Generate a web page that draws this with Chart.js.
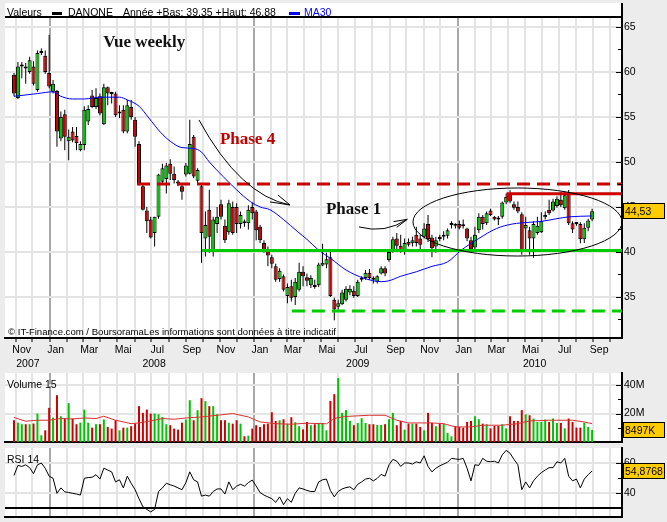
<!DOCTYPE html>
<html lang="fr">
<head>
<meta charset="utf-8">
<title>DANONE - vue weekly</title>
<script src="https://cdn.jsdelivr.net/npm/chart.js@4.4.1/dist/chart.umd.min.js"></script>
<style>
  html, body { margin: 0; padding: 0; background: #ececec; overflow: hidden; }
  #page { position: relative; width: 667px; height: 522px; }
  #page canvas { position: absolute; left: 0; }
</style>
</head>
<body>
<div id="page">
  <canvas id="prix" width="667" height="370" style="top:0"></canvas>
  <canvas id="volume" width="667" height="75" style="top:370px"></canvas>
  <canvas id="rsi" width="667" height="77" style="top:445px"></canvas>
</div>
<script>
// DANONE, bougies hebdo de fin oct. 2007 a fin aout 2010

const firstWeek = Date.UTC(2007, 9, 29);   // lundi de la premiere bougie
const DAY = 864e5;
const FONT = '"Liberation Sans", Arial, sans-serif';
const SERIF = '"Liberation Serif", "Times New Roman", serif';
const UP = '#00c400';
const DOWN = '#cc0000';

const monthNames = ['Jan', '', 'Mar', '', 'Mai', '', 'Jul', '', 'Sep', '', 'Nov', ''];
const yearLabels = ['2007', '2008', '2009', '2010'];
const yearCentres = ['2007-11-23', '2008-07-06', '2009-07-06', '2010-05-19'];
const priceTicks = [32.5, 35, 37.5, 40, 42.5, 45, 47.5, 50, 52.5, 55, 57.5, 60, 62.5, 65];
const volumeTicks = [10, 20, 30, 40];
const rsiTicks = [40, 50, 60];

const opens = [
  59.7, 57.1, 60.6, 60.6, 60.0, 60.6, 58.0, 62.1, 61.8, 59.9,
  57.8, 57.9, 52.6, 55.3, 52.3, 53.4, 52.9, 51.3, 51.9, 54.5,
  57.4, 56.1, 57.3, 54.2, 58.3, 57.6, 57.6, 55.4, 55.8, 53.4,
  56.1, 54.7, 52.0, 47.3, 44.6, 43.6, 42.1, 43.9, 47.8, 48.1,
  49.8, 48.7, 47.7, 47.3, 48.6, 48.7, 52.8, 47.9, 47.3, 41.5,
  44.7, 40.2, 43.1, 45.3, 42.9, 42.2, 45.0, 45.0, 43.1, 43.3,
  43.2, 45.0, 44.5, 42.8, 41.0, 40.2, 39.4, 38.4, 37.0, 37.3,
  35.1, 36.2, 35.0, 35.8, 37.8, 37.2, 36.3, 36.3, 36.3, 38.5,
  38.6, 39.4, 34.7, 33.9, 34.2, 34.7, 35.5, 35.7, 35.1, 36.9,
  37.1, 37.7, 36.95, 36.7, 37.6, 38.2, 39.1, 40.0, 41.5, 40.7,
  40.0, 41.1, 40.97, 41.9, 41.5, 41.7, 43.1, 41.6, 40.6, 41.5,
  41.7, 41.8, 43.0, 42.95, 43.1, 42.9, 42.6, 41.3, 40.5, 42.4,
  43.9, 43.2, 44.6, 43.9, 43.65, 43.9, 45.5, 46.5, 45.3, 45.0,
  44.2, 42.6, 42.4, 41.5, 42.1, 42.2, 43.85, 44.7, 44.6, 45.1,
  45.8, 44.85, 46.45, 43.2, 43.15, 43.1, 41.4, 42.7, 43.6
];
const highs = [
  59.9, 61.1, 61.1, 61.0, 61.7, 61.2, 62.4, 62.6, 62.4, 64.1,
  59.1, 58.0, 55.6, 55.8, 53.6, 53.9, 53.9, 52.3, 56.2, 56.3,
  58.0, 58.2, 57.6, 58.7, 58.4, 57.8, 57.8, 56.3, 56.3, 56.9,
  56.9, 55.0, 52.3, 47.6, 45.0, 43.9, 43.9, 48.7, 49.8, 49.9,
  50.3, 49.5, 48.0, 47.6, 49.9, 54.7, 53.0, 49.3, 47.6, 44.5,
  46.9, 43.9, 45.0, 45.8, 43.6, 45.8, 45.6, 45.4, 44.5, 43.6,
  45.2, 45.5, 44.7, 43.0, 41.3, 40.6, 39.7, 38.7, 38.2, 37.5,
  36.5, 36.9, 37.1, 38.8, 38.4, 37.6, 37.4, 36.9, 38.8, 40.9,
  39.9, 40.2, 34.9, 34.7, 35.8, 36.2, 36.3, 36.2, 36.9, 37.3,
  38.0, 38.1, 37.3, 37.4, 38.4, 38.4, 40.2, 41.7, 42.1, 41.9,
  41.5, 41.5, 41.7, 42.8, 41.9, 43.2, 44.1, 41.9, 41.7, 41.9,
  42.3, 42.6, 43.4, 43.2, 43.5, 43.6, 42.7, 41.7, 42.8, 44.3,
  44.1, 44.5, 44.8, 44.0, 44.0, 45.6, 46.5, 46.85, 45.6, 45.6,
  44.4, 43.9, 42.8, 43.4, 43.9, 44.4, 44.5, 45.8, 45.9, 46.2,
  46.7, 46.7, 46.88, 43.4, 43.3, 43.3, 43.2, 43.7, 44.8
];
const lows = [
  57.3, 57.0, 59.3, 58.7, 59.8, 58.5, 57.8, 61.9, 59.8, 58.2,
  57.6, 51.7, 52.3, 51.3, 50.2, 52.2, 51.3, 51.2, 51.3, 54.1,
  56.0, 55.9, 55.2, 54.1, 56.3, 56.5, 55.0, 54.9, 53.2, 53.2,
  54.7, 51.7, 47.4, 44.6, 42.1, 41.5, 40.6, 43.7, 47.5, 46.5,
  48.0, 47.6, 47.3, 45.8, 48.4, 48.6, 48.2, 47.6, 38.8, 39.5,
  39.9, 39.5, 42.1, 43.6, 41.0, 41.9, 41.9, 42.1, 42.6, 42.8,
  42.5, 43.6, 41.3, 41.0, 39.9, 38.4, 38.2, 36.7, 36.7, 35.6,
  34.3, 34.5, 34.1, 35.6, 36.2, 36.2, 36.0, 35.9, 36.1, 38.4,
  38.2, 35.0, 32.4, 33.6, 34.1, 34.5, 35.2, 34.9, 35.0, 36.7,
  36.9, 36.9, 36.5, 36.5, 37.5, 37.3, 38.9, 39.9, 40.0, 39.9,
  39.7, 40.6, 40.6, 40.6, 40.2, 41.5, 41.1, 39.4, 39.9, 41.2,
  41.3, 41.5, 42.6, 42.6, 42.5, 42.6, 41.2, 40.0, 40.2, 42.1,
  42.5, 43.0, 44.0, 43.5, 43.0, 43.7, 45.3, 45.4, 44.7, 44.3,
  39.7, 40.2, 39.7, 39.35, 41.9, 42.1, 43.6, 44.1, 44.5, 44.9,
  45.0, 44.7, 43.0, 42.1, 42.9, 40.96, 41.0, 42.3, 43.4
];
const closes = [
  57.6, 60.6, 60.65, 60.4, 61.3, 58.7, 62.1, 62.3, 60.0, 58.4,
  58.7, 53.4, 55.0, 52.8, 52.8, 52.4, 52.1, 52.0, 55.8, 55.9,
  56.1, 57.1, 55.4, 58.3, 57.6, 57.55, 55.2, 55.6, 53.4, 56.3,
  55.0, 52.8, 47.6, 44.7, 43.4, 41.6, 43.9, 48.6, 49.3, 49.6,
  48.7, 48.0, 47.6, 46.7, 49.6, 52.0, 48.4, 49.1, 42.1, 43.0,
  41.7, 43.6, 43.9, 43.9, 41.3, 45.4, 42.1, 43.1, 44.1, 43.2,
  44.7, 44.3, 42.4, 41.3, 40.2, 39.6, 38.7, 36.9, 37.9, 35.8,
  36.1, 34.9, 36.7, 37.8, 37.3, 36.8, 37.1, 36.1, 38.6, 38.8,
  39.2, 35.1, 33.6, 34.3, 35.5, 35.9, 35.9, 35.1, 36.7, 37.0,
  37.7, 37.1, 36.9, 37.3, 38.2, 37.6, 40.0, 41.4, 40.7, 40.2,
  41.0, 40.8, 41.3, 41.0, 40.8, 42.6, 41.4, 40.4, 41.3, 41.45,
  41.9, 42.4, 43.2, 42.9, 42.7, 42.85, 41.5, 40.3, 41.9, 43.9,
  43.1, 44.3, 44.1, 43.6, 43.6, 45.5, 46.1, 45.6, 44.9, 44.5,
  40.2, 43.0, 41.5, 43.1, 42.9, 43.4, 44.1, 44.3, 45.6, 45.9,
  45.2, 46.3, 43.2, 42.5, 43.1, 41.4, 42.7, 43.5, 44.53
];
// volumes en millions de titres
const volumes = [
  15.3, 13.6, 12.5, 12.5, 12.5, 13.0, 20.0, 4.7, 8.2, 24.0,
  17.2, 32.9, 18.1, 16.5, 27.3, 16.5, 12.5, 13.6, 22.8, 13.6,
  10.1, 12.5, 12.5, 15.8, 10.6, 9.4, 15.3, 8.2, 10.1, 10.1,
  11.1, 12.9, 25.2, 20.5, 22.8, 20.0, 20.0, 19.5, 17.6, 12.5,
  11.8, 9.4, 8.7, 13.6, 15.8, 29.4, 15.3, 22.4, 30.8, 28.7,
  25.2, 25.2, 19.5, 15.3, 15.3, 13.6, 12.9, 15.3, 12.9, 4.0,
  4.5, 9.4, 11.8, 10.6, 12.5, 12.9, 20.9, 14.8, 15.3, 16.0,
  12.9, 17.4, 13.9, 11.1, 8.9, 14.1, 11.8, 12.5, 13.4, 13.4,
  8.2, 28.9, 33.6, 45.0, 20.5, 22.4, 14.8, 11.8, 13.4, 16.7,
  13.4, 12.5, 12.5, 12.0, 12.0, 12.5, 16.0, 20.5, 11.8, 14.8,
  8.7, 12.9, 12.9, 12.9, 10.6, 8.2, 20.5, 13.4, 11.1, 12.9,
  12.9, 6.4, 4.0, 11.1, 10.6, 10.1, 14.1, 14.8, 18.1, 16.0,
  12.9, 12.5, 9.6, 11.3, 11.3, 12.5, 9.6, 18.1, 14.8, 14.8,
  22.4, 19.5, 18.8, 16.5, 14.1, 14.1, 15.8, 14.1, 16.5, 13.4,
  13.4, 9.6, 16.5, 14.1, 10.1, 10.1, 13.6, 10.6, 8.497
];
const rsi14 = [
  51.9, 58.6, 57.9, 59.0, 57.1, 53.1, 59.0, 60.2, 56.7, 51.4,
  50.0, 40.0, 43.6, 41.0, 40.5, 40.0, 39.5, 38.8, 50.0, 50.5,
  50.7, 52.4, 49.5, 56.7, 55.5, 54.3, 47.6, 49.0, 43.6, 51.4,
  46.7, 42.4, 36.4, 31.0, 29.3, 27.6, 29.3, 41.2, 43.6, 46.7,
  45.7, 44.8, 43.6, 42.4, 47.1, 54.3, 49.0, 47.6, 38.1, 38.8,
  38.1, 41.2, 42.9, 42.9, 39.5, 47.6, 42.4, 44.8, 46.0, 44.8,
  47.1, 48.8, 44.8, 40.5, 38.8, 37.6, 36.4, 34.0, 37.6, 32.4,
  36.4, 34.0, 40.0, 43.6, 42.9, 41.9, 41.2, 41.2, 47.6, 49.0,
  49.5, 41.9, 37.6, 41.2, 42.9, 43.8, 44.3, 42.4, 46.0, 47.6,
  49.5, 50.0, 48.3, 50.0, 52.6, 51.4, 59.0, 62.6, 61.4, 57.9,
  60.2, 60.2, 59.5, 61.0, 60.2, 65.0, 57.9, 54.3, 56.7, 58.3,
  59.5, 60.7, 63.3, 62.9, 62.6, 63.3, 56.7, 48.3, 59.0, 58.6,
  63.3, 61.4, 61.0, 61.4, 60.2, 65.7, 68.6, 66.7, 62.6, 59.0,
  42.4, 47.6, 43.6, 48.3, 51.4, 53.8, 55.5, 57.1, 57.1, 61.0,
  60.2, 63.3, 51.4, 48.3, 49.5, 43.6, 49.5, 52.4, 54.8768
];
// moyennes : [semaine, valeur]
const ma30 = [
  [0, 57.3], [6, 57.6], [10, 57.8], [12, 57.3], [15, 57.0], [18, 57.0], [22, 57.2],
  [27, 57.2], [29, 56.9], [32, 56.2], [34.5, 54.9], [37.5, 53.3], [40, 52.3], [43, 51.6],
  [46, 51.5], [48, 51.1], [50, 50.0], [53.5, 48.4], [57, 46.9], [60.5, 45.6], [63, 45.0],
  [65.5, 44.7], [69, 43.6], [72.5, 42.3], [75, 41.4], [78, 40.2], [81, 39.3], [85, 38.0],
  [89.5, 37.1], [94, 36.7], [96, 36.8], [99, 37.3], [103, 37.8], [107, 38.4], [111, 38.9],
  [114.5, 40.2], [119, 41.5], [123.5, 42.6], [127.5, 43.1], [132, 43.3], [135, 43.4],
  [139, 43.7], [142, 43.9], [148, 44.0]
];
const volMa15 = [
  [0, 17.2], [3, 14.6], [6, 15.3], [9, 15.3], [12, 16.5], [15, 16.2], [18, 16.9], [21, 16.5],
  [23, 18.1], [26, 15.3], [30, 12.9], [32, 13.4], [36, 15.3], [38, 16.5], [41, 16.0],
  [44, 16.9], [48, 17.6], [52, 18.8], [56, 20.0], [60, 17.6], [63, 14.1], [67, 12.9],
  [71, 12.5], [75, 13.2], [80, 12.8], [82, 16.5], [84, 17.6], [86, 18.1], [91, 18.8],
  [95, 18.8], [98, 15.3], [101, 13.4], [107, 13.4], [110, 12.9], [113, 10.6], [117, 10.6],
  [120, 11.8], [125, 11.8], [129, 12.9], [132, 14.8], [137, 15.3], [143, 15.3], [146, 14.1],
  [148, 12.9]
];
const yearLow = 39.35;
const yearHigh = 46.88;

// traces faits a la main sur le graphique (jours depuis la 1re bougie, cours)
const refLines = [
  { price: 47.55, from: 220.4, color: '#cc0000', dash: [13, 7] },
  { price: 40.15, from: 337, color: '#00cc00', dash: [] },
  { price: 33.45, from: 498, color: '#00cc00', dash: [13, 7] },
  { price: 46.48, from: 885.3, color: '#cc0000', dash: [], drop: 45.7 }
];
const ellipse = { day: 902.3, price: 43.33, rx: 187.3, ry: 3.78 };
const arrows = [
  { from: [331.5, 54.67], ctrl: [405, 46.3], to: [494.6, 45.22], barbs: [[473, 46.33], [458.8, 45.56]] },
  { from: [618.3, 42.78], ctrl: [664.9, 42.0], to: [704.8, 43.63], barbs: [[680.1, 43.37], [685.8, 42.74]] }
];
const notes = [
  { text: 'Vue weekly', day: 160, price: 62.8, color: '#111' },
  { text: 'Phase 4', day: 369, price: 52.0, color: '#c00000' },
  { text: 'Phase 1', day: 559, price: 44.2, color: '#111' }
];
const copyright = '\u00A9 IT-Finance.com / BoursoramaLes informations sont donn\u00e9es \u00e0 titre indicatif';

const xMin = -16.13, xMax = 1089.6;
const weekDays = opens.map((_, i) => i * 7);
const up = opens.map((o, i) => closes[i] >= o);
const dayOf = s => (Date.parse(s) - firstWeek) / DAY;
const fr = (v, d) => v.toFixed(d).replace('.', ',');
const last = closes.length - 1;

const monthTicks = [];
for (let y = 2007; y <= 2010; y++) {
  for (let m = 0; m < 12; m++) {
    const d = (Date.UTC(y, m, 1) - firstWeek) / DAY;
    if (d > xMin && d < xMax) monthTicks.push({ day: d, month: m });
  }
}

Chart.defaults.font.family = FONT;
Chart.defaults.font.size = 10.5;
Chart.defaults.color = '#000';

function monthAxis(showLabels) {
  return {
    type: 'linear', position: 'bottom', min: xMin, max: xMax, offset: false,
    afterBuildTicks: s => { s.ticks = monthTicks.map(t => ({ value: t.day })); },
    afterFit: s => { s.height = showLabels ? 32 : 0; s.paddingLeft = 0; s.paddingRight = 0; },
    grid: {
      offset: false, lineWidth: 2,
      color: c => (monthTicks[c.index] || {}).month === 0 ? '#a9a9a9' : '#e4e4e4',
      drawTicks: showLabels, tickLength: 4, tickColor: '#000', tickWidth: 1
    },
    border: { display: true, color: '#000', width: 2 },
    ticks: {
      display: showLabels, autoSkip: false, maxRotation: 0, minRotation: 0,
      labelOffset: 6, padding: 2,
      callback: (v, i) => monthNames[monthTicks[i].month]
    }
  };
}

function rightAxis(min, max, values, label) {
  return {
    type: 'linear', position: 'right', min: min, max: max,
    afterBuildTicks: s => { s.ticks = values.map(v => ({ value: v })); },
    afterFit: s => { s.width = 45; s.paddingTop = 0; s.paddingBottom = 0; },
    grid: {
      lineWidth: 2, drawTicks: false,
      color: c => c.tick && label(c.tick.value) !== '' ? '#e4e4e4' : 'rgba(0,0,0,0)'
    },
    border: { display: true, color: '#000', width: 2 },
    ticks: { padding: 2, callback: v => label(v) }
  };
}

const panelBg = {
  id: 'panelBg',
  beforeDraw(chart, args, opts) {
    const { ctx, chartArea: a } = chart;
    ctx.save();
    ctx.fillStyle = '#fff';
    ctx.fillRect(a.left, opts.top, a.right - a.left, a.bottom - opts.top);
    ctx.restore();
  },
  beforeDatasetsDraw(chart, args, opts) {
    if (!opts.title) return;
    const { ctx, chartArea: a } = chart;
    ctx.save();
    ctx.font = '10.5px ' + FONT;
    ctx.fillStyle = '#000';
    ctx.fillText(opts.title, 7, a.top + 15);
    ctx.restore();
  }
};

const insideTicks = {
  id: 'insideTicks',
  afterDraw(chart) {
    const { ctx, chartArea: a } = chart;
    const sc = chart.scales.y;
    ctx.save();
    ctx.fillStyle = '#000';
    sc.ticks.forEach(t => {
      const py = Math.round(sc.getPixelForValue(t.value));
      const len = t.label ? 6 : 4;
      ctx.fillRect(a.right - len, py, len, 1);
    });
    ctx.restore();
  }
};

const valueBox = {
  id: 'valueBox',
  afterDraw(chart, args, opts) {
    const { ctx, chartArea: a } = chart;
    const py = Math.round(chart.scales.y.getPixelForValue(opts.value));
    ctx.save();
    ctx.fillStyle = '#ffcc00';
    ctx.fillRect(a.right + 1, py - 8, 42, 16);
    ctx.strokeStyle = '#000';
    ctx.lineWidth = 1;
    ctx.strokeRect(a.right + 1.5, py - 7.5, 41, 15);
    ctx.fillStyle = '#000';
    ctx.font = '10.5px ' + FONT;
    ctx.textBaseline = 'middle';
    ctx.fillText(opts.text, a.right + 3, py + 1);
    ctx.restore();
  }
};

const decorPrix = {
  id: 'decorPrix',
  beforeDraw(chart) {
    const ctx = chart.ctx;
    ctx.save();
    ctx.font = '10.5px ' + FONT;
    ctx.fillStyle = '#000';
    ctx.fillText('Valeurs', 7, 16);
    ctx.fillRect(52, 12, 10, 3);
    ctx.fillText('DANONE', 68, 16);
    ctx.fillText('Ann\u00e9e +Bas: ' + fr(yearLow, 2) + ' +Haut: ' + fr(yearHigh, 2), 123, 16);
    ctx.fillStyle = '#0000ff';
    ctx.fillRect(289, 12, 11, 3);
    ctx.fillText('MA30', 304, 16);
    ctx.restore();
  },
  afterDatasetsDraw(chart) {
    const { ctx, chartArea: a } = chart;
    const X = v => chart.scales.x.getPixelForValue(v);
    const Y = v => chart.scales.y.getPixelForValue(v);
    ctx.save();
    ctx.beginPath();
    ctx.rect(a.left, a.top, a.right - a.left, a.bottom - a.top);
    ctx.clip();

    refLines.forEach(l => {
      ctx.strokeStyle = l.color;
      ctx.lineWidth = 3;
      ctx.setLineDash(l.dash);
      ctx.beginPath();
      if (l.drop) ctx.moveTo(X(l.from), Y(l.drop));
      else ctx.moveTo(X(l.from), Y(l.price));
      ctx.lineTo(X(l.from), Y(l.price));
      ctx.lineTo(a.right, Y(l.price));
      ctx.stroke();
    });
    ctx.setLineDash([]);

    ctx.strokeStyle = '#000';
    ctx.lineWidth = 1;
    ctx.beginPath();
    ctx.ellipse(X(ellipse.day), Y(ellipse.price),
      X(ellipse.day + ellipse.rx) - X(ellipse.day),
      Y(ellipse.price) - Y(ellipse.price + ellipse.ry), 0, 0, Math.PI * 2);
    ctx.stroke();

    arrows.forEach(ar => {
      const tx = X(ar.to[0]), ty = Y(ar.to[1]);
      ctx.beginPath();
      ctx.moveTo(X(ar.from[0]), Y(ar.from[1]));
      ctx.quadraticCurveTo(X(ar.ctrl[0]), Y(ar.ctrl[1]), tx, ty);
      ar.barbs.forEach(b => {
        ctx.moveTo(X(b[0]), Y(b[1]));
        ctx.lineTo(tx, ty);
      });
      ctx.stroke();
    });

    ctx.font = 'bold 17px ' + SERIF;
    notes.forEach(n => {
      ctx.fillStyle = n.color;
      ctx.fillText(n.text, X(n.day), Y(n.price));
    });
    ctx.restore();

    // mention en bas du graphique
    ctx.save();
    ctx.font = '9px ' + FONT;
    ctx.fillStyle = '#000';
    const w = ctx.measureText(copyright).width;
    ctx.translate(8, 335);
    ctx.scale(328 / w, 1);
    ctx.fillText(copyright, 0, 0);
    ctx.restore();
  },
  afterDraw(chart) {
    const { ctx, chartArea: a } = chart;
    const X = v => chart.scales.x.getPixelForValue(v);
    ctx.save();
    ctx.fillStyle = '#000';
    ctx.fillRect(a.left, a.top - 1, a.right - a.left, 2);
    ctx.fillRect(a.right - 1, 3, 2, a.top - 3);
    // annees sous les mois
    ctx.font = '10.5px ' + FONT;
    ctx.textAlign = 'center';
    ctx.textBaseline = 'middle';
    yearLabels.forEach((t, i) => ctx.fillText(t, X(dayOf(yearCentres[i])), a.bottom + 26));
    ctx.restore();
  }
};

const common = {
  responsive: false, animation: false, devicePixelRatio: 1, events: []
};

new Chart(document.getElementById('prix'), {
  type: 'bar',
  data: {
    datasets: [
      {
        type: 'line', label: 'MA30', order: 0,
        data: ma30.map(p => ({ x: p[0] * 7, y: p[1] })),
        borderColor: '#0000ff', borderWidth: 1, pointRadius: 0,
        cubicInterpolationMode: 'monotone'
      },
      {
        label: 'DANONE', order: 1, grouped: false,
        data: opens.map((o, i) => ({ x: weekDays[i], y: [o, closes[i]] })),
        backgroundColor: up.map(u => u ? UP : DOWN),
        borderColor: '#000', borderWidth: 1, borderSkipped: false,
        barThickness: 4, minBarLength: 2, inflateAmount: 0
      },
      {
        label: 'meches', order: 2, grouped: false,
        data: lows.map((l, i) => ({ x: weekDays[i], y: [l, highs[i]] })),
        backgroundColor: '#000', borderWidth: 0, barThickness: 1, inflateAmount: 0
      }
    ]
  },
  options: Object.assign({}, common, {
    layout: { padding: { left: 5, top: 17, right: 0, bottom: 0 } },
    plugins: {
      legend: { display: false }, tooltip: { enabled: false },
      panelBg: { top: 3 },
      valueBox: { value: closes[last], text: fr(closes[last], 2) }
    },
    scales: {
      x: monthAxis(true),
      y: rightAxis(30.44, 66.11, priceTicks, v => v % 5 === 0 ? String(v) : '')
    }
  }),
  plugins: [panelBg, decorPrix, insideTicks, valueBox]
});

new Chart(document.getElementById('volume'), {
  type: 'bar',
  data: {
    datasets: [
      {
        type: 'line', label: 'Moyenne 15', order: 0,
        data: volMa15.map(p => ({ x: p[0] * 7, y: p[1] })),
        borderColor: '#d83030', borderWidth: 1, pointRadius: 0
      },
      {
        label: 'Volume', order: 1,
        data: volumes.map((v, i) => ({ x: weekDays[i], y: v })),
        backgroundColor: up.map(u => u ? UP : DOWN),
        barThickness: 2, inflateAmount: 0
      }
    ]
  },
  options: Object.assign({}, common, {
    layout: { padding: { left: 5, top: 3, right: 0, bottom: 3 } },
    plugins: {
      legend: { display: false }, tooltip: { enabled: false },
      panelBg: { top: 3, title: 'Volume 15' },
      valueBox: { value: volumes[last], text: Math.round(volumes[last] * 1000) + 'K' }
    },
    scales: {
      x: monthAxis(false),
      y: rightAxis(0, 48.5, volumeTicks, v => v % 20 === 0 ? v + 'M' : '')
    }
  }),
  plugins: [panelBg, insideTicks, valueBox]
});

const rsiLine30 = {
  id: 'rsiLine30',
  beforeDatasetsDraw(chart) {
    const { ctx, chartArea: a } = chart;
    const py = Math.round(chart.scales.y.getPixelForValue(30));
    ctx.save();
    ctx.fillStyle = '#000';
    ctx.fillRect(a.left, py - 1, a.right - a.left, 2);
    ctx.restore();
  }
};

new Chart(document.getElementById('rsi'), {
  type: 'line',
  data: {
    datasets: [{
      label: 'RSI 14',
      data: rsi14.map((v, i) => ({ x: weekDays[i], y: v })),
      borderColor: '#000', borderWidth: 1, pointRadius: 0, tension: 0
    }]
  },
  options: Object.assign({}, common, {
    layout: { padding: { left: 5, top: 3, right: 0, bottom: 5 } },
    plugins: {
      legend: { display: false }, tooltip: { enabled: false },
      panelBg: { top: 3, title: 'RSI 14' },
      valueBox: { value: rsi14[last], text: fr(rsi14[last], 4) }
    },
    scales: {
      x: monthAxis(false),
      y: rightAxis(24.2, 70.2, rsiTicks, v => v === 50 ? '' : String(v))
    }
  }),
  plugins: [panelBg, rsiLine30, insideTicks, valueBox]
});
</script>
</body>
</html>
